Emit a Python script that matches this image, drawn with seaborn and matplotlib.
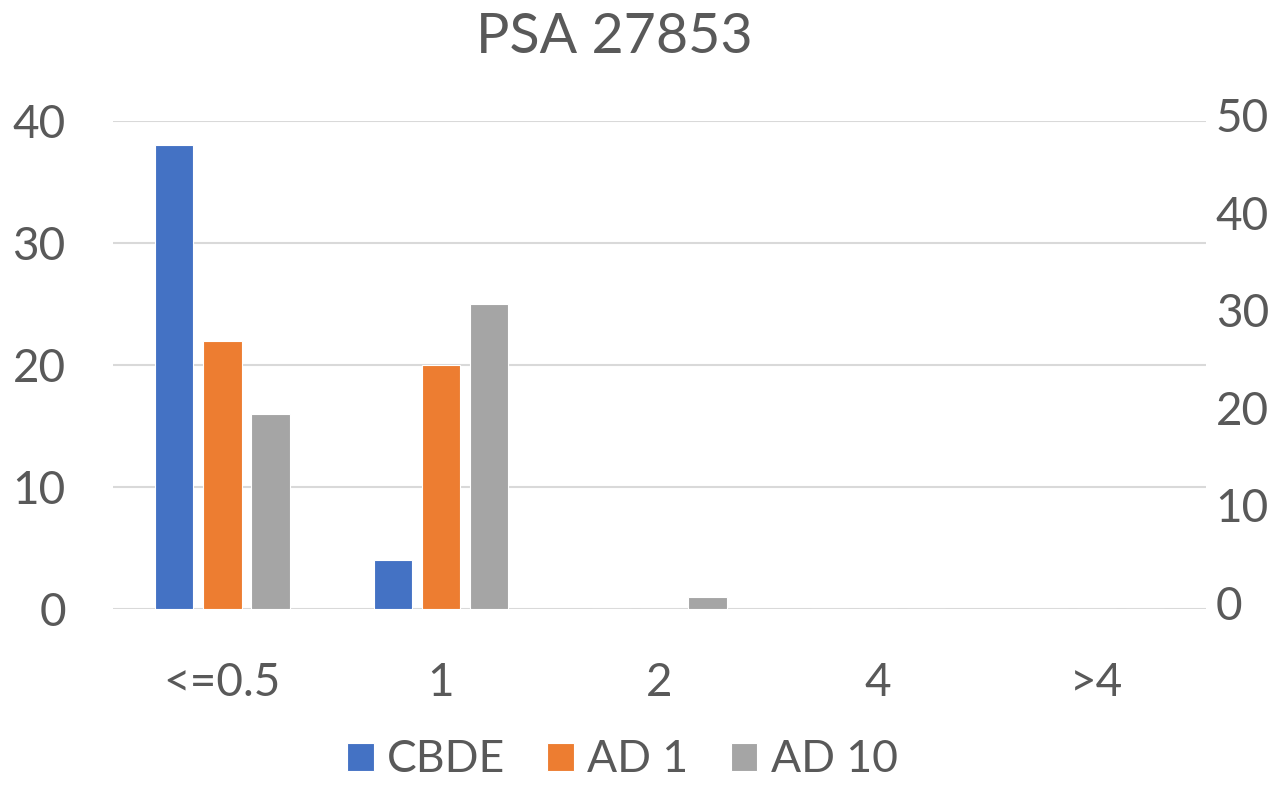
import pandas as pd
import matplotlib.pyplot as plt
import matplotlib.transforms as mtransforms
import seaborn as sns

# values
categories = ['<=0.5', '1', '2', '4', '>4']
series_names = ['CBDE', 'AD 1', 'AD 10']
cbde = [38, 4, 0, 0, 0]
ad1 = [22, 20, 0, 0, 0]
ad10 = [16, 25, 1, 0, 0]
left_ticks = [0, 10, 20, 30, 40]
right_ticks = [0, 10, 20, 30, 40, 50]
colors = ['#4472C4', '#ED7D31', '#A5A5A5']

rows = []
for name, vals in zip(series_names, [cbde, ad1, ad10]):
    for c, v in zip(categories, vals):
        rows.append({'cat': c, 'series': name, 'value': v})
df = pd.DataFrame(rows)

sns.set_style('white')
plt.rcParams['font.family'] = ['Lato', 'DejaVu Sans']
txt = '#595959'

fig = plt.figure(figsize=(12.7, 7.87), dpi=100)
ax = fig.add_axes([0.089, 0.2262, 0.8606, 0.6201])
sns.barplot(data=df, x='cat', y='value', hue='series', order=categories,
            hue_order=series_names, palette=colors, width=0.66, gap=0.2,
            edgecolor='white', linewidth=0.8, saturation=1, ax=ax)

ax.set_ylim(0, 40)
ax.set_yticks(left_ticks)
ax.set_xlim(-0.5, len(categories) - 0.5)
ax.yaxis.grid(True, color='#d9d9d9', linewidth=1.5)
ax.set_axisbelow(True)
for s in ax.spines.values():
    s.set_visible(False)
ax.set_xlabel('')
ax.set_ylabel('')
ax.tick_params(axis='y', length=0, pad=34, labelsize=33, labelcolor=txt)
ax.tick_params(axis='x', length=0, pad=38, labelsize=33, labelcolor=txt)

ax2 = ax.twinx()
ax2.set_ylim(0, 50)
ax2.set_yticks(right_ticks)
ax2.grid(False)
for s in ax2.spines.values():
    s.set_visible(False)
ax2.tick_params(axis='y', length=0, pad=7, labelsize=33, labelcolor=txt)
# right labels sit a little above the gridlines
shift = mtransforms.ScaledTranslation(0, 6 / 100, fig.dpi_scale_trans)
for lab in ax2.get_yticklabels():
    lab.set_transform(lab.get_transform() + shift)

fig.suptitle('PSA 27853', fontsize=40, color=txt, x=0.484, y=0.985)

sns.move_legend(ax, 'lower center', bbox_to_anchor=(0.466, -0.415), ncol=3,
                frameon=False, title=None, fontsize=32, handlelength=0.6,
                handleheight=0.6, handletextpad=0.3, columnspacing=0.95,
                labelcolor=txt, borderpad=0.2)

fig.savefig('out.png', dpi=100)
